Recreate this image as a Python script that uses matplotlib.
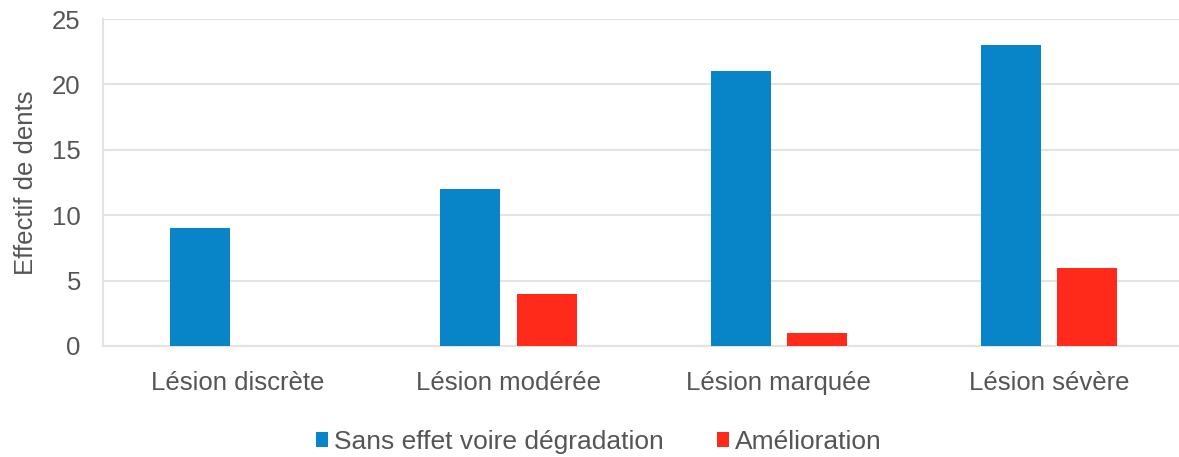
import numpy as np
import matplotlib.pyplot as plt

categories = ["Lésion discrète", "Lésion modérée", "Lésion marquée", "Lésion sévère"]
sans_effet = [9, 12, 21, 23]
amelioration = [0, 4, 1, 6]
yticks = [0, 5, 10, 15, 20, 25]

blue = "#0884C8"
red = "#FF2A1A"
txt = "#555555"

plt.rcParams["font.family"] = ["Liberation Sans", "DejaVu Sans"]

fig = plt.figure(figsize=(11.79, 4.57), dpi=100)
ax = fig.add_axes([0.0874, 0.2429, 0.917, 0.7155])

x = np.arange(len(categories))
w = 0.222
off = (w + 0.06) / 2
ax.bar(x - off, sans_effet, w, color=blue, label="Sans effet voire dégradation", zorder=3)
ax.bar(x + off, amelioration, w, color=red, label="Amélioration", zorder=3)

ax.set_xlim(-0.5, len(categories) - 0.5)
ax.set_ylim(0, 25)
ax.set_yticks(yticks)
ax.set_xticks(x)
ax.set_xticklabels(categories)
ax.tick_params(axis="both", length=0, labelsize=18.5, labelcolor=txt)
ax.tick_params(axis="x", pad=18)
ax.tick_params(axis="y", pad=16)
ax.grid(axis="y", color="#E3E3E3", linewidth=1.5, zorder=0)
for s in ["top", "right"]:
    ax.spines[s].set_visible(False)
ax.spines["left"].set_color("#E3E3E3")
ax.spines["left"].set_linewidth(1.5)
ax.spines["bottom"].set_color("#E3E3E3")
ax.spines["bottom"].set_linewidth(1.5)
ax.set_ylabel("Effectif de dents", fontsize=18.5, color=txt, labelpad=10)

fig.legend(loc="lower center", bbox_to_anchor=(0.508, -0.045), ncol=2, frameon=False,
           fontsize=19, handlelength=0.45, handleheight=0.45, handletextpad=0.25,
           columnspacing=2.0, labelcolor=txt)

fig.savefig("out.png", dpi=100)
